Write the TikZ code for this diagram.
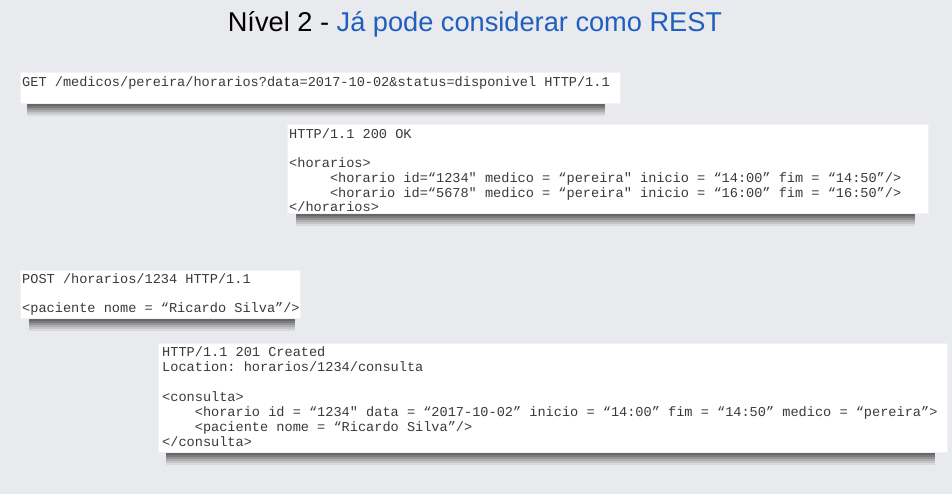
\documentclass[tikz,border=0pt]{standalone}
\usepackage{fontspec}
\setmainfont{Liberation Sans}
\newfontfamily\codefont{Liberation Mono}
\definecolor{backgr}{HTML}{E9EAEE}
\definecolor{titleblue}{HTML}{1F5FBF}
\definecolor{inkgray}{HTML}{3A3A3A}
\definecolor{shadowgray}{HTML}{5C5C5C}
\newcommand{\codeindent}[1]{\hspace*{#1\fontcharwd\font`\x}}
% shadow under a sheet: from x #1 to x #2, starting at y #3
\newcommand{\papershadow}[3]{%
  \foreach \d/\t in {0/100,2/92,4/78,6/60,8/42,10/26,12/12}
    \fill[shadowgray!\t!backgr] (#1,#3+\d) rectangle (#2,#3+\d+2);}
\frenchspacing

\begin{document}
\begin{tikzpicture}[x=1pt,y=-1pt,
    paper/.style={rectangle, fill=white, draw=black!5, line width=0.3pt,
      anchor=north west, inner sep=0pt},
    code/.style={anchor=north west, inner sep=0pt, align=left, text=inkgray,
      font=\codefont\fontsize{13.6}{14.7}\selectfont}]
    % BACKGROUND
    \fill[backgr] (0,0) rectangle (952,494);
    \useasboundingbox (0,0) rectangle (952,494);
    % TITLE
    \node[anchor=base, font=\fontsize{27.2}{30}\selectfont] (title) at (475,32)
      {Nível 2 - \textcolor{titleblue}{Já pode considerar como REST}};
    % SHADOWS
    \papershadow{27}{605}{102}
    \papershadow{296}{915}{212}
    \papershadow{29}{295}{317}
    \papershadow{166}{935}{451}
    % PAPERS
    \node[paper, minimum width=600pt, minimum height=31pt] (get) at (20,72) {};
    \node[paper, minimum width=641pt, minimum height=89pt] (ok) at (287,124) {};
    \node[paper, minimum width=280pt, minimum height=48pt] (post) at (20,270) {};
    \node[paper, minimum width=789pt, minimum height=109pt] (created) at (158,343) {};
    % FIRST CALL
    \node[code] (gettext) at ([shift={(2,4)}]get.north west)
      {GET /medicos/pereira/horarios?data=2017-10-02\&status=disponivel HTTP/1.1};
    \node[code] (oktext) at ([shift={(2,4)}]ok.north west)
      {HTTP/1.1 200 OK\\[15pt]
       <horarios>\\
       \codeindent{5}<horario id=“1234" medico = “pereira" inicio = “14:00” fim = “14:50”/>\\
       \codeindent{5}<horario id=“5678" medico = “pereira" inicio = “16:00” fim = “16:50”/>\\
       </horarios>};
    % SECOND CALL
    \node[code] (posttext) at ([shift={(2,3)}]post.north west)
      {POST /horarios/1234 HTTP/1.1\\[14.7pt]
       <paciente nome = “Ricardo Silva”/>};
    \node[code, font=\codefont\fontsize{13.6}{15}\selectfont] (createdtext)
      at ([shift={(4,3)}]created.north west)
      {HTTP/1.1 201 Created\\
       Location: horarios/1234/consulta\\[15pt]
       <consulta>\\
       \codeindent{4}<horario id = “1234" data = “2017-10-02” inicio = “14:00” fim = “14:50” medico = “pereira”>\\
       \codeindent{4}<paciente nome = “Ricardo Silva”/>\\
       </consulta>};
\end{tikzpicture}
\end{document}
